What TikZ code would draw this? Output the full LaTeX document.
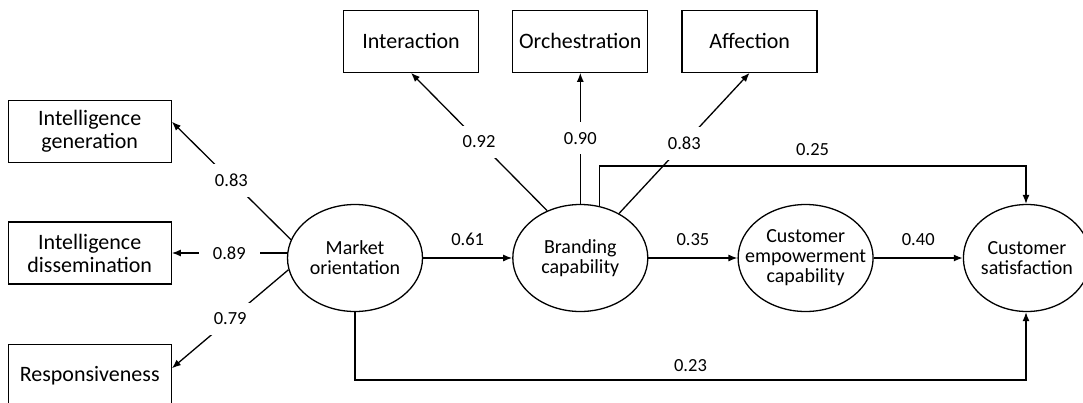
\documentclass[tikz,border=0pt]{standalone}
\usepackage{fontspec}
\setmainfont{Carlito}
\usetikzlibrary{arrows.meta,positioning,shapes.geometric,calc}

\begin{document}
\begin{tikzpicture}[
    x=1pt,y=-1pt,
    node distance=89pt,
    box/.style={rectangle,draw,line width=1.3pt,minimum width=#1,minimum height=62pt,font=\fontsize{22}{23}\selectfont,align=center,inner sep=2pt},
    box/.default=135pt,
    latent/.style={ellipse,draw,line width=1.3pt,minimum width=#1,minimum height=107pt,font=\fontsize{20}{20}\selectfont,align=center,inner xsep=-30pt,inner ysep=0pt},
    latent/.default=135pt,
    arrow/.style={-{Latex[length=9pt,width=7pt]},line width=1.3pt},
    num/.style={fill=white,font=\fontsize{18.5}{20}\selectfont,inner xsep=14pt,inner ysep=10pt},
    numabove/.style={font=\fontsize{18.5}{20}\selectfont,above=#1,inner sep=2pt},
    numabove/.default=10pt
]
\useasboundingbox (0,0) rectangle (1083,402);

\node[latent] (mo) at (355,258) {Market\\orientation};
\node[latent,right=of mo] (bc) {Branding\\capability};
\node[latent,right=of bc] (cec) {Customer\\empowerment\\capability};
\node[latent=127pt,right=of cec] (cs) {Customer\\satisfaction};

\node[box,above=131pt of bc] (orch) {Orchestration};
\node[box,left=33pt of orch] (inter) {Interaction};
\node[box,right=33pt of orch] (affect) {Affection};

\node[box=163pt,left=115pt of mo,yshift=5pt] (intdiss) {Intelligence\\dissemination};
\node[box=163pt,above=58pt of intdiss] (intgen) {Intelligence\\generation};
\node[box=163pt,below=59pt of intdiss] (resp) {Responsiveness};

\coordinate (hi) at (1026,166);
\coordinate (lo) at (1026,380);

% market orientation indicators
\draw[arrow] (mo.164) -- node[num] (l83a) {0.83} ([yshift=10pt]intgen.east);
\draw[arrow] (intdiss.east -| mo.west) -- node[num] (l89) {0.89} (intdiss.east);
\draw[arrow] (mo.190) -- node[num] (l79) {0.79} ([yshift=7pt]resp.east);

% branding capability indicators
\draw[arrow] (bc.125) -- node[num] (l92) {0.92} (inter.south);
\draw[arrow] (bc.north) -- node[num] (l90) {0.90} (orch.south);
\draw[arrow] (bc.49) -- node[num] (l83b) {0.83} (affect.south);

% structural paths
\draw[arrow] (mo) -- node[numabove] (l61) {0.61} (bc);
\draw[arrow] (bc) -- node[numabove] (l35) {0.35} (cec);
\draw[arrow] (cec) -- node[numabove] (l40) {0.40} (cs);
\draw[arrow] (bc.70) |- node[numabove=8pt,pos=0.75] (l25) {0.25} (hi) -- (hi |- cs.north);
\draw[arrow] (mo.south) |- node[numabove=6pt,pos=0.75] (l23) {0.23} (lo) -- (lo |- cs.south);

\end{tikzpicture}
\end{document}
